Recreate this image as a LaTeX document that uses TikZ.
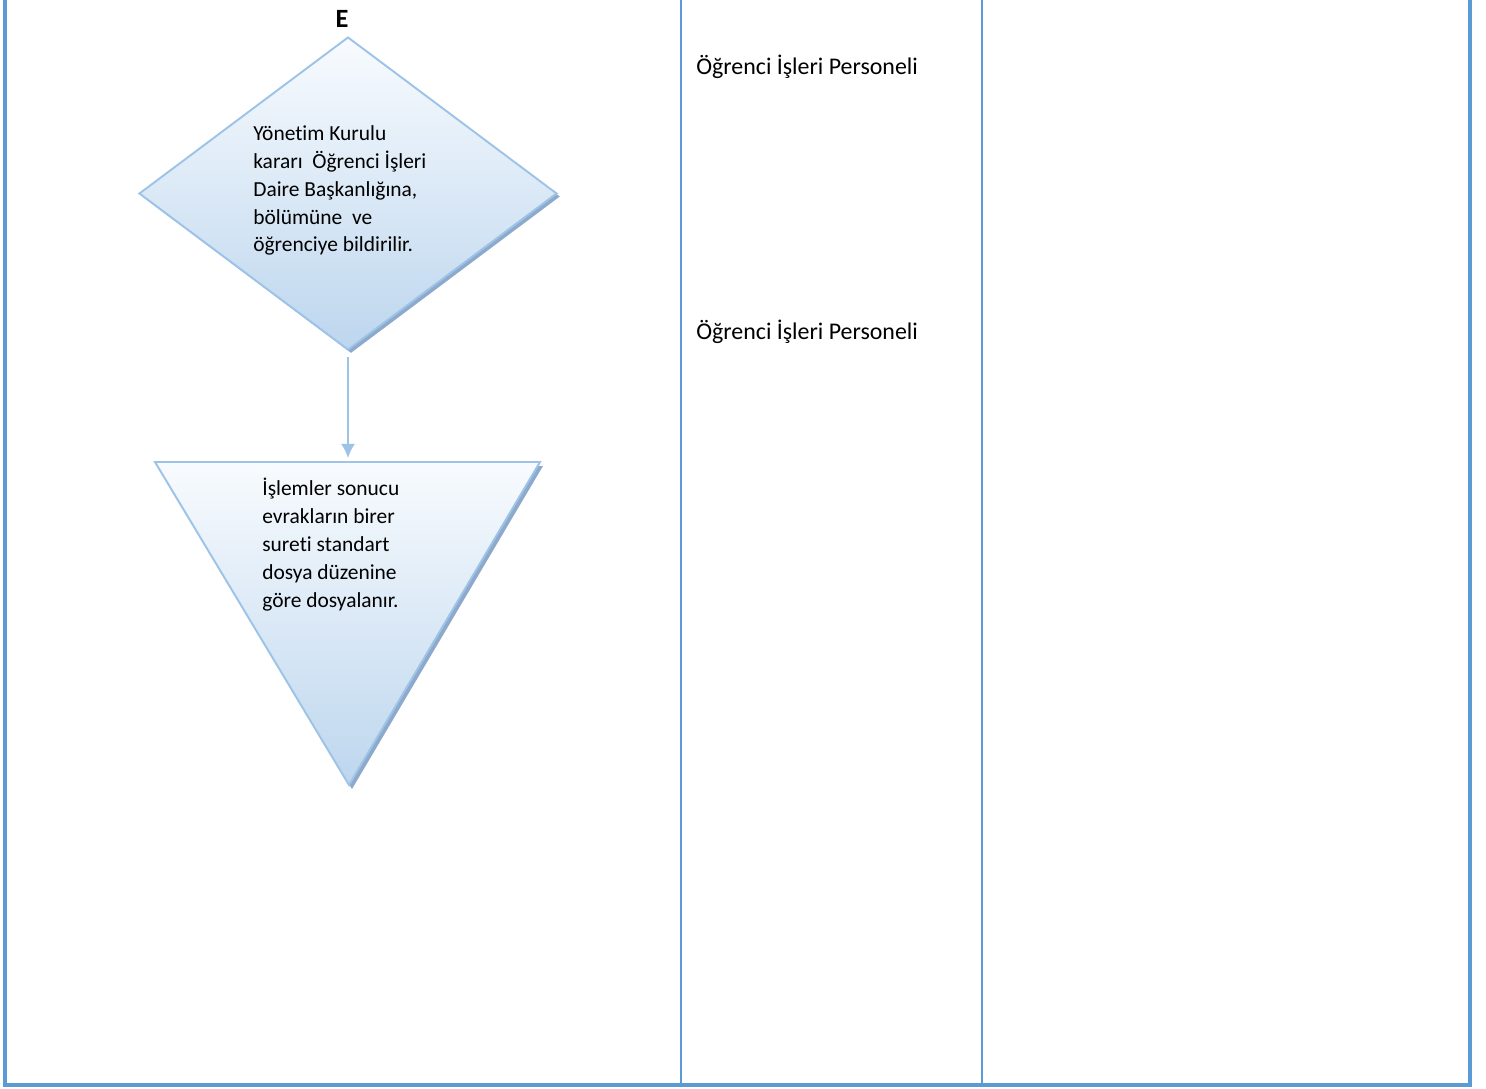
\documentclass[tikz,border=0pt]{standalone}
\usepackage{fontspec}
\setmainfont[Ligatures=NoCommon]{Carlito}
\usetikzlibrary{positioning,shapes.geometric,arrows.meta}

\definecolor{laneblue}{HTML}{5B9BD5}
\definecolor{shapeline}{HTML}{9DC3E6}
\definecolor{shapetop}{HTML}{F8FBFE}
\definecolor{shapebottom}{HTML}{BDD6EE}
\definecolor{shapeshadow}{HTML}{8DA9CB}

\begin{document}
\begin{tikzpicture}[x=0.02cm,y=-0.02cm]
    \tikzset{lane/.style={draw=laneblue, line width=1.2pt},
      outerlane/.style={lane, line width=1.8pt},
      flowshape/.style={draw=shapeline, line width=1.1pt, top color=shapetop, bottom color=shapebottom},
      shadowshape/.style={fill=shapeshadow, draw=none},
      lanetext/.style={font=\fontsize{13.6}{15.9}\selectfont, inner sep=0pt},
      flowtext/.style={font=\fontsize{12.2}{15.9}\selectfont, align=left, inner sep=0pt},
      decision/.style={diamond, minimum width=8.36cm, minimum height=6.26cm, inner sep=0pt}
    }

    \useasboundingbox (0,0) rectangle (1486,1088);

    % swimlanes
    \draw[outerlane] (5,0) -- (5,1085) -- (1470,1085) -- (1470,0);
    \draw[lane] (681,0) -- (681,1085);
    \draw[lane] (982,0) -- (982,1085);

    % decision
    \node[decision, shadowshape] (dia-shadow) at (351,196.5) {};
    \node[decision, flowshape] (dia) at (348,193.5) {};
    \node[flowtext, anchor=north west] (dia-text) at (253,125)
      {Yönetim Kurulu\\kararı~~Öğrenci İşleri\\Daire Başkanlığına,\\bölümüne~~ve\\öğrenciye bildirilir.};
    \node[font=\fontsize{15}{16}\selectfont\bfseries, inner sep=0pt] (label-e) at (342,19) {E};

    % storage triangle
    \coordinate (tri-l) at (155,462);
    \coordinate (tri-r) at (540,462);
    \coordinate (tri-b) at (349,785);
    \coordinate (tri-top) at (348,458);
    \fill[shadowshape] ([shift={(3,4)}]tri-l) -- ([shift={(3,4)}]tri-r) -- ([shift={(3,4)}]tri-b) -- cycle;
    \draw[flowshape] (tri-l) -- (tri-r) -- (tri-b) -- cycle;
    \node[flowtext, anchor=north west] (tri-text) at (262,478)
      {İşlemler sonucu\\evrakların birer\\sureti standart\\dosya düzenine\\göre dosyalanır.};

    \draw[-{Latex[length=8pt,width=8pt]}, draw=shapeline, fill=shapeline, line width=1.1pt, shorten <=3.5pt] (dia.south) -- (tri-top);

    % responsible
    \node[lanetext, anchor=west] (role-a) at (696,67) {Öğrenci İşleri Personeli};
    \node[lanetext, anchor=west] (role-b) at (696,332) {Öğrenci İşleri Personeli};
  \end{tikzpicture}
\end{document}
